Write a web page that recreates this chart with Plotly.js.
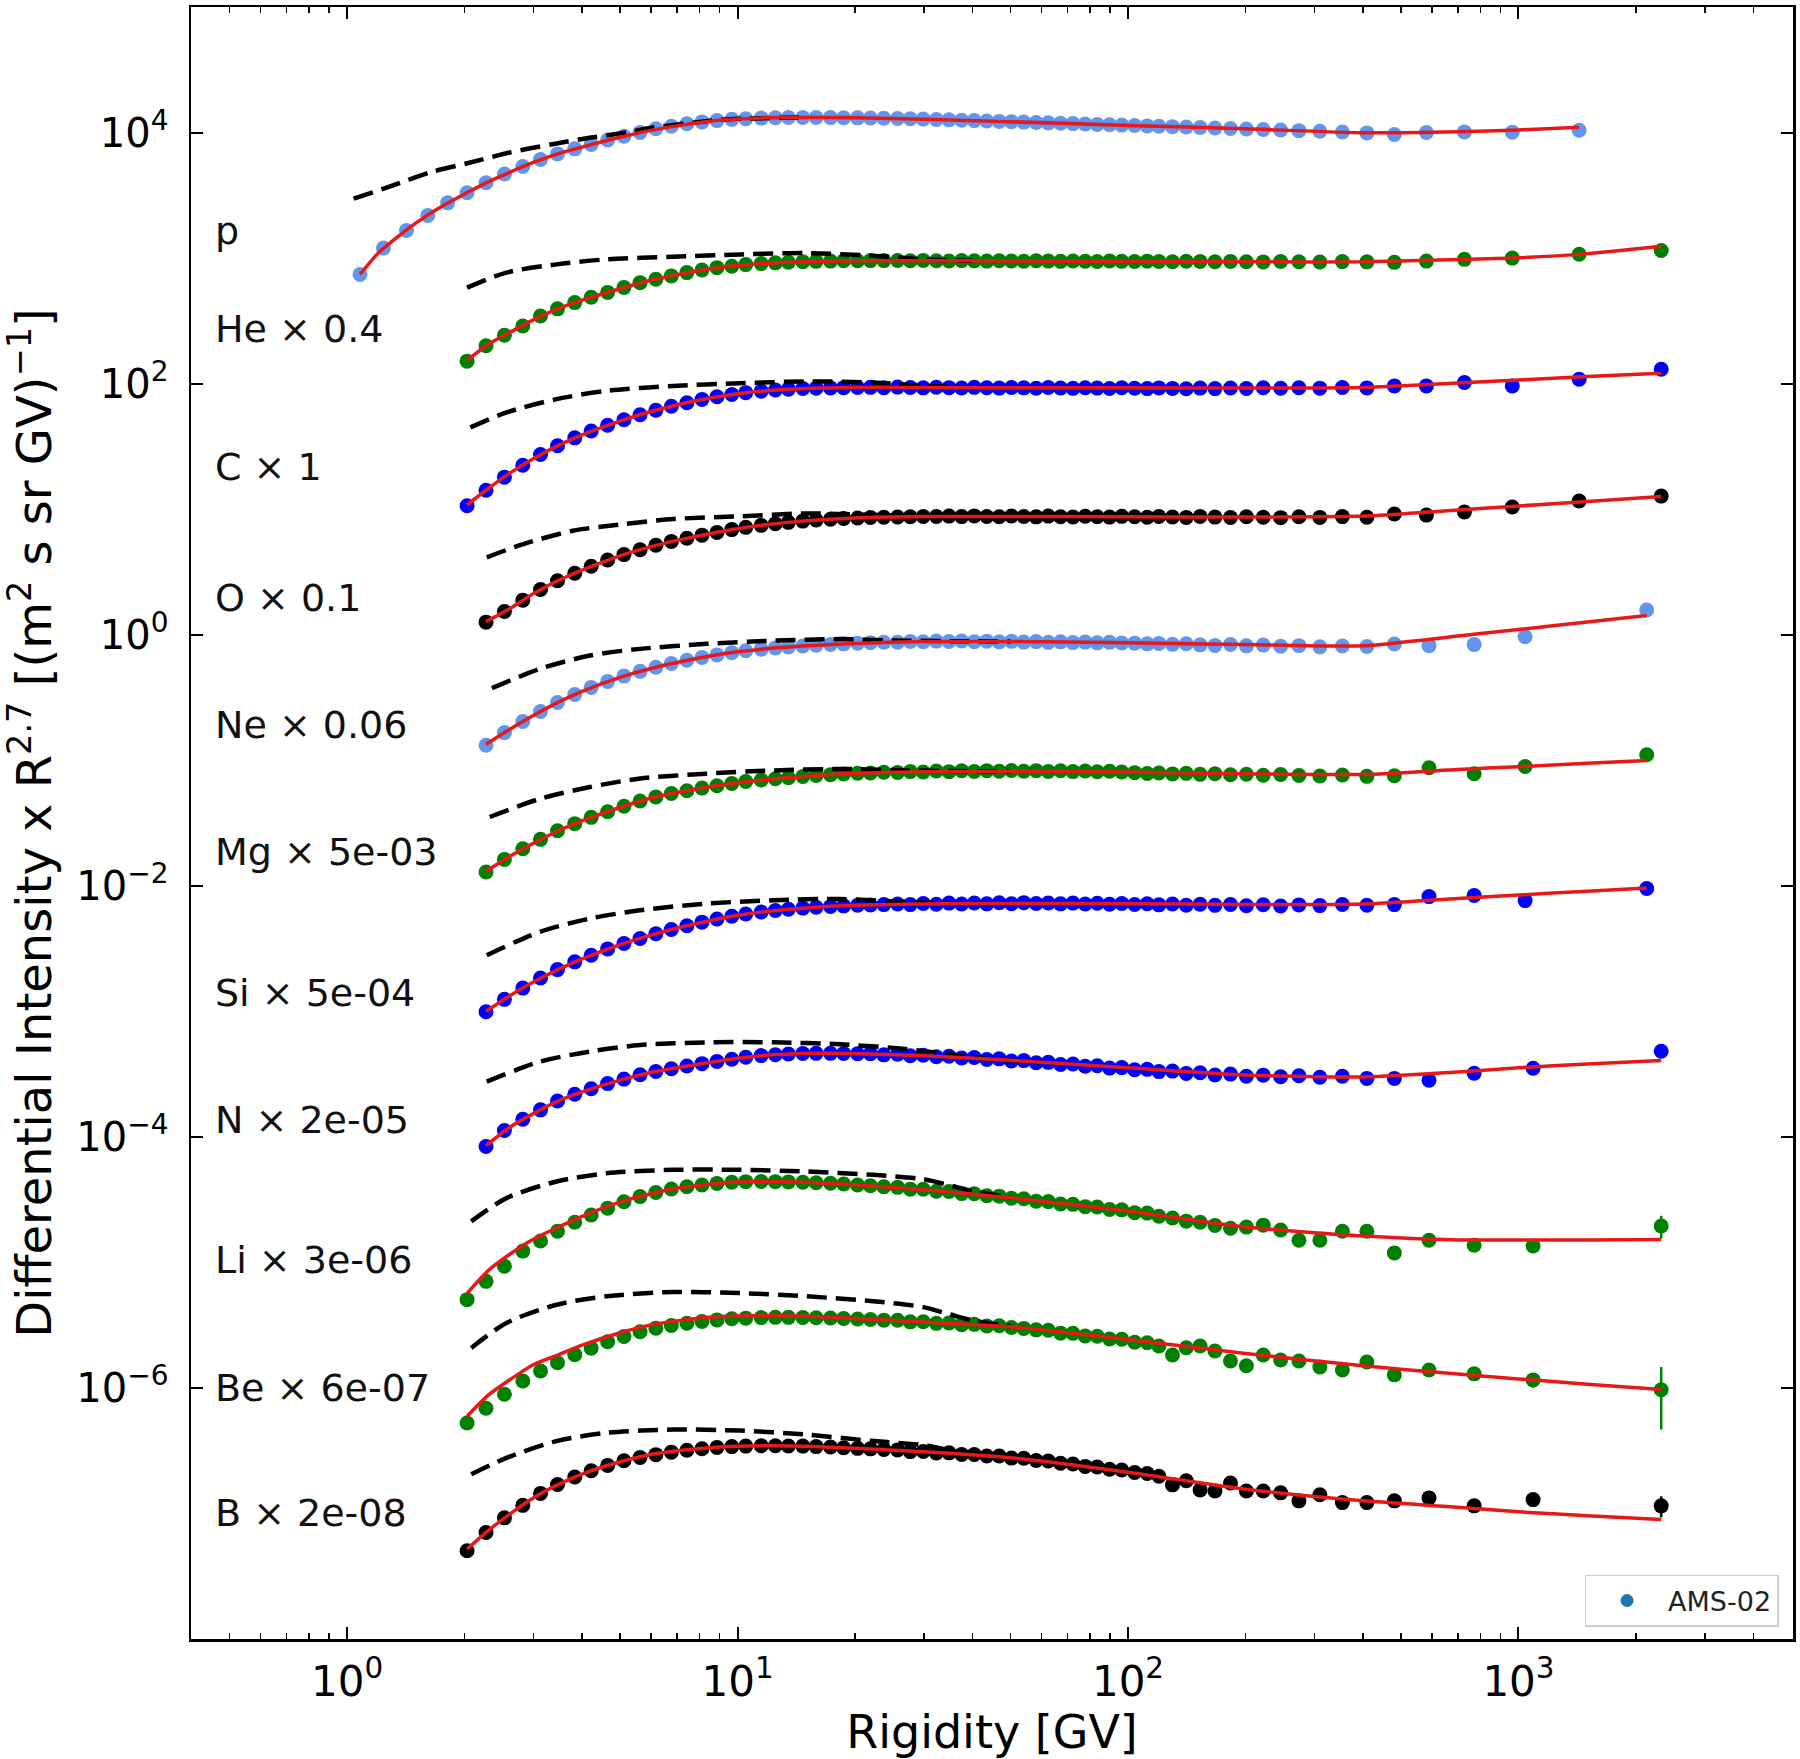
<!DOCTYPE html>
<html>
<head>
<meta charset="utf-8">
<script src="https://cdn.plot.ly/plotly-3.0.1.min.js"></script>
<style>html,body{margin:0;padding:0;background:#fff;}#plot{width:1800px;height:1759px;}</style>
</head>
<body>
<div id="plot"></div>
<script>
// ---------- rigidity bins (GV) ----------
const xNuc = [2.03, 2.27, 2.53, 2.82, 3.13, 3.46, 3.83, 4.22, 4.65, 5.12, 5.63, 6.18, 6.77, 7.42, 8.11, 8.86, 9.67,
  10.5, 11.5, 12.5, 13.5, 14.7, 15.9, 17.3, 18.7, 20.3, 21.9, 23.7, 25.7, 27.7, 29.9, 32.3, 34.8, 37.5, 40.4, 43.5, 46.8,
  50.3, 54.1, 58.2, 62.5, 67.2, 72.3, 77.7, 83.4, 89.7, 96.4,
  104, 112, 120, 130, 141, 153, 167, 183, 201, 222, 246, 274, 310, 354, 409];
const xLowP = [1.08, 1.24, 1.42, 1.61, 1.81];
const xTailP = [481, 581, 727, 964, 1430];
const xTailHe = [481, 581, 727, 964, 1430, 2320];
const xTailNe = [481, 590, 770, 1040, 2130];
const xTailN = [481, 590, 770, 1090, 2320];

// ---------- data (flux x R^2.7, scaled) ----------
const yP = [741, 1202, 1660, 2188, 2754, 3311, 3981, 4677, 5370, 6095, 6761, 7413, 8035, 8710, 9333, 10000, 10720, 11220, 11750, 12160, 12450, 12740,
  12880, 13030, 13120, 13180, 13180, 13180, 13150, 13120, 13090, 13060, 13000, 12940, 12880, 12790, 12710, 12620, 12530, 12450, 12360, 12270,
  12190, 12110, 12020, 11940, 11860, 11780, 11690, 11610, 11530, 11460,
  11380, 11300, 11220, 11140, 11070, 10960, 10860, 10770, 10660, 10570, 10470, 10350, 10230, 10090, 9931,
  9640, 10000, 10120, 10070, 10420];
const yHe = [151, 200, 243, 288, 346, 394, 442, 488, 533, 583, 637, 679, 721, 766, 804, 839, 861, 887, 904, 916, 927, 935, 942, 946, 951, 953, 955, 955,
  956, 951, 958, 953, 949, 955, 950, 946, 953, 948, 944, 951, 946, 942, 949, 944, 940, 947, 942, 938, 945, 940, 936, 943, 938, 934, 941, 936, 932, 939, 934, 930, 937, 933,
  925, 946, 977, 1000, 1072, 1148];
const yC = [10.64, 14.13, 17.99, 22.39, 27.23, 31.99, 36.98, 41.88, 46.56, 51.52, 56.49, 61.38, 66.07, 70.47, 74.65, 78.52, 81.85, 84.72, 87.10, 88.92, 90.36, 91.41, 92.05, 92.47, 92.90, 93.11,
  93.4, 92.7, 93.8, 93.0, 92.5, 93.6, 92.9, 92.3, 93.4, 92.7, 92.1, 93.2, 92.5, 91.9, 93.0, 92.3, 91.7, 92.8, 92.1, 91.5, 92.6, 91.9, 91.3, 92.4, 91.6, 91.0, 92.1, 91.3, 92.3, 91.5, 92.6, 91.8, 92.8, 92.0, 93.0, 92.4,
  95.9, 95.9, 102, 95.9, 108.4, 130.3];
const yO = [1.259, 1.531, 1.884, 2.291, 2.692, 3.090, 3.508, 3.936, 4.345, 4.753, 5.164, 5.521, 5.861, 6.209, 6.531, 6.871, 7.161, 7.430, 7.656, 7.852, 8.035, 8.185, 8.318, 8.433, 8.511, 8.570, 8.630, 8.670, 8.710, 8.730, 8.750,
  8.80, 8.72, 8.84, 8.75, 8.69, 8.82, 8.74, 8.68, 8.80, 8.71, 8.65, 8.78, 8.70, 8.64, 8.76, 8.69, 8.62, 8.75, 8.67, 8.60, 8.73, 8.64, 8.58, 8.71, 8.62, 8.56, 8.70, 8.60, 8.72, 8.63,
  9.14, 8.97, 9.48, 10.4, 11.6, 12.7];
const yNe = [0.1318, 0.1660, 0.2032, 0.2443, 0.2884, 0.3342, 0.3802, 0.4246, 0.4677, 0.5105, 0.5508, 0.5888, 0.6252, 0.6592, 0.6902, 0.7194, 0.7447, 0.7674, 0.7852, 0.7998, 0.8128, 0.8241, 0.8356, 0.8453, 0.8551,
  0.864, 0.871, 0.872, 0.882, 0.878, 0.889, 0.882, 0.891, 0.880, 0.888, 0.877, 0.885, 0.873, 0.881, 0.869, 0.877, 0.865, 0.873, 0.861, 0.869, 0.858,
  0.856, 0.845, 0.852, 0.838, 0.846, 0.830, 0.822, 0.835, 0.815, 0.826, 0.808, 0.818, 0.800, 0.812, 0.805,
  0.843, 0.818, 0.834, 0.962, 1.574];
const yMg = [0.01288, 0.01622, 0.01972, 0.02344, 0.02742, 0.03126, 0.03508, 0.03890, 0.04305, 0.04732, 0.05105, 0.05433, 0.05715, 0.05998, 0.06266, 0.06531, 0.06761, 0.06966, 0.07112, 0.07244, 0.07413, 0.07551, 0.07674, 0.07780, 0.07870,
  0.0792, 0.0802, 0.0800, 0.0812, 0.0806, 0.0820, 0.0811, 0.0824, 0.0814, 0.0826, 0.0816, 0.0828, 0.0818, 0.0826, 0.0815, 0.0824, 0.0812, 0.0821, 0.0809, 0.0818, 0.0806,
  0.0796, 0.0785, 0.0792, 0.0778, 0.0786, 0.0772, 0.0780, 0.0766, 0.0774, 0.0760, 0.0770, 0.0756, 0.0748, 0.0762, 0.0744,
  0.0752, 0.0871, 0.0780, 0.0891, 0.1107];
const ySi = [9.931e-4, 1.245e-3, 1.531e-3, 1.841e-3, 2.148e-3, 2.477e-3, 2.799e-3, 3.141e-3, 3.467e-3, 3.802e-3, 4.150e-3, 4.487e-3, 4.808e-3, 5.129e-3, 5.433e-3, 5.715e-3, 5.957e-3, 6.180e-3, 6.353e-3, 6.501e-3, 6.637e-3, 6.745e-3, 6.839e-3, 6.918e-3, 6.998e-3,
  7.02e-3, 7.08e-3, 7.15e-3, 7.08e-3, 7.22e-3, 7.12e-3, 7.28e-3, 7.16e-3, 7.30e-3, 7.18e-3, 7.32e-3, 7.20e-3, 7.34e-3, 7.22e-3, 7.30e-3, 7.18e-3, 7.28e-3, 7.15e-3, 7.26e-3, 7.12e-3, 7.22e-3,
  7.10e-3, 7.20e-3, 7.05e-3, 7.16e-3, 7.00e-3, 7.12e-3, 6.98e-3, 7.10e-3, 6.94e-3, 7.06e-3, 6.90e-3, 7.04e-3, 6.95e-3, 7.10e-3, 7.00e-3,
  7.08e-3, 8.20e-3, 8.36e-3, 7.62e-3, 9.51e-3];
const yN = [8.375e-5, 1.122e-4, 1.380e-4, 1.641e-4, 1.932e-4, 2.183e-4, 2.415e-4, 2.655e-4, 2.884e-4, 3.126e-4, 3.319e-4, 3.491e-4, 3.664e-4, 3.828e-4, 3.990e-4, 4.150e-4, 4.305e-4, 4.436e-4, 4.508e-4, 4.571e-4, 4.613e-4, 4.624e-4, 4.624e-4, 4.613e-4, 4.592e-4,
  4.60e-4, 4.50e-4, 4.55e-4, 4.42e-4, 4.47e-4, 4.34e-4, 4.39e-4, 4.25e-4, 4.29e-4, 4.14e-4, 4.18e-4, 4.02e-4, 4.05e-4, 3.89e-4, 3.92e-4, 3.77e-4, 3.80e-4, 3.65e-4, 3.68e-4, 3.53e-4, 3.56e-4,
  3.42e-4, 3.45e-4, 3.31e-4, 3.34e-4, 3.20e-4, 3.24e-4, 3.11e-4, 3.16e-4, 3.04e-4, 3.10e-4, 3.01e-4, 3.07e-4, 2.98e-4, 3.04e-4, 2.92e-4,
  2.92e-4, 2.82e-4, 3.21e-4, 3.52e-4, 4.80e-4];
const yLi = [5.047e-6, 7.063e-6, 9.333e-6, 1.230e-5, 1.479e-5, 1.770e-5, 2.089e-5, 2.388e-5, 2.704e-5, 3.041e-5, 3.342e-5, 3.606e-5, 3.837e-5, 4.009e-5, 4.140e-5, 4.256e-5, 4.345e-5, 4.395e-5, 4.406e-5, 4.395e-5, 4.375e-5, 4.345e-5, 4.305e-5, 4.266e-5, 4.207e-5, 4.140e-5, 4.074e-5, 4.009e-5,
  3.96e-5, 3.83e-5, 3.82e-5, 3.69e-5, 3.67e-5, 3.53e-5, 3.52e-5, 3.39e-5, 3.37e-5, 3.24e-5, 3.21e-5, 3.07e-5, 3.05e-5, 2.92e-5, 2.90e-5, 2.78e-5, 2.76e-5, 2.64e-5, 2.62e-5,
  2.49e-5, 2.47e-5, 2.33e-5, 2.26e-5, 2.13e-5, 2.09e-5, 1.97e-5, 1.87e-5, 1.91e-5, 1.98e-5, 1.81e-5, 1.50e-5, 1.50e-5, 1.77e-5, 1.77e-5,
  1.19e-5, 1.50e-5, 1.37e-5, 1.35e-5, 1.95e-5];
const yBe = [5.260e-7, 6.887e-7, 8.913e-7, 1.135e-6, 1.365e-6, 1.585e-6, 1.841e-6, 2.075e-6, 2.333e-6, 2.570e-6, 2.805e-6, 2.992e-6, 3.141e-6, 3.273e-6, 3.388e-6, 3.483e-6, 3.556e-6, 3.597e-6, 3.631e-6, 3.648e-6, 3.648e-6, 3.639e-6, 3.622e-6, 3.606e-6, 3.573e-6, 3.540e-6, 3.508e-6, 3.467e-6,
  3.46e-6, 3.36e-6, 3.37e-6, 3.27e-6, 3.29e-6, 3.19e-6, 3.21e-6, 3.12e-6, 3.13e-6, 3.03e-6, 2.98e-6, 2.90e-6, 2.88e-6, 2.73e-6, 2.72e-6, 2.59e-6, 2.58e-6, 2.45e-6, 2.44e-6,
  2.31e-6, 2.29e-6, 2.16e-6, 1.83e-6, 2.09e-6, 2.16e-6, 1.97e-6, 1.64e-6, 1.50e-6, 1.83e-6, 1.67e-6, 1.64e-6, 1.47e-6, 1.39e-6, 1.61e-6,
  1.271e-6, 1.390e-6, 1.294e-6, 1.159e-6, 9.66e-7];
const yB = [5.05e-8, 7.05e-8, 9.23e-8, 1.16e-7, 1.445e-7, 1.70e-7, 1.95e-7, 2.19e-7, 2.415e-7, 2.63e-7, 2.79e-7, 2.94e-7, 3.08e-7, 3.19e-7, 3.28e-7, 3.36e-7, 3.41e-7, 3.44e-7, 3.46e-7, 3.46e-7, 3.45e-7, 3.44e-7, 3.41e-7, 3.38e-7, 3.34e-7, 3.30e-7, 3.27e-7, 3.23e-7,
  3.21e-7, 3.11e-7, 3.12e-7, 3.03e-7, 3.04e-7, 2.95e-7, 2.95e-7, 2.87e-7, 2.87e-7, 2.76e-7, 2.75e-7, 2.64e-7, 2.62e-7, 2.51e-7, 2.48e-7, 2.37e-7, 2.35e-7, 2.25e-7, 2.22e-7,
  2.12e-7, 2.08e-7, 1.98e-7, 1.69e-7, 1.82e-7, 1.54e-7, 1.51e-7, 1.75e-7, 1.51e-7, 1.51e-7, 1.46e-7, 1.26e-7, 1.41e-7, 1.22e-7, 1.22e-7,
  1.26e-7, 1.33e-7, 1.15e-7, 1.29e-7, 1.15e-7];

// error bars on the highest-rigidity points
const errTailP = [0, 0, 0, 250, 450];
const errTailHe = [0, 0, 0, 0, 40, 95];
const errTailC = [0, 0, 0, 0, 4, 9];
const errTailO = [0, 0, 0, 0, 0.4, 0.9];
const errTailNe = [0, 0, 0, 0.05, 0.11];
const errTailMg = [0, 0, 0, 0.005, 0.009];
const errTailSi = [0, 0, 0, 4e-4, 7e-4];
const errTailN = [0, 0, 0, 1.8e-5, 3.2e-5];
const errTailLi = [0, 0, 0, 1.2e-6, 4.0e-6];
const errTailBe = [0, 0, 0, 1.5e-7, 5.0e-7];
const errTailB = [0, 0, 0, 0, 2.2e-8];

// ---------- fitted model (red) ----------
const xFitP = [1.08, 1.2, 1.35, 1.5, 1.7, 2, 2.3, 2.6, 3, 3.5, 4, 5, 6, 7, 8.5, 10, 12, 15, 20, 30, 50, 100, 200, 400, 700, 1000, 1430];
const fitP = [741, 1090, 1480, 1900, 2450, 3240, 4050, 4800, 5780, 6830, 7660, 9160, 10400, 11300, 12300, 12800, 13100, 13180, 13100, 12780, 12200, 11400, 10700, 9950, 10150, 10500, 11000];
const xFitA = [2.03, 2.3, 2.6, 3, 3.5, 4, 5, 6, 7, 8.5, 10, 12, 15, 20, 30, 50, 100, 200, 400, 700, 1000, 1500, 2320];
const xFitB = [2.27, 2.6, 3, 3.5, 4, 5, 6, 7, 8.5, 10, 12, 15, 20, 30, 50, 100, 200, 400, 700, 1000, 1500, 2320];
const xFitC = [2.27, 2.6, 3, 3.5, 4, 5, 6, 7, 8.5, 10, 12, 15, 20, 30, 50, 100, 200, 400, 700, 1000, 1500, 2130];
const fitHe = [153, 206, 254, 322, 399, 462, 570, 666, 737, 822, 872, 910, 937, 952, 952, 948, 942, 936, 933, 975, 1005, 1085, 1240];
const fitC = [10.8, 14.6, 19.2, 25.2, 32.5, 39.1, 50.3, 60.0, 67.6, 76.7, 83.0, 88.0, 91.5, 93.0, 93.0, 92.8, 92.5, 92.2, 93.0, 101, 107, 114, 121];
const fitO = [1.27, 1.60, 2.12, 2.73, 3.27, 4.25, 5.03, 5.64, 6.38, 6.99, 7.54, 8.07, 8.50, 8.72, 8.74, 8.70, 8.66, 8.80, 9.86, 10.6, 11.5, 12.6];
const fitNe = [0.134, 0.175, 0.227, 0.293, 0.354, 0.457, 0.538, 0.600, 0.676, 0.730, 0.776, 0.815, 0.852, 0.882, 0.882, 0.862, 0.835, 0.815, 0.976, 1.10, 1.262, 1.419];
const fitMg = [0.0130, 0.0170, 0.0218, 0.0277, 0.0329, 0.0420, 0.0500, 0.0553, 0.0614, 0.0662, 0.0705, 0.0745, 0.0786, 0.0810, 0.0816, 0.0805, 0.0780, 0.0770, 0.0843, 0.0889, 0.0944, 0.0993];
const fitSi = [1.0e-3, 1.32e-3, 1.71e-3, 2.18e-3, 2.62e-3, 3.39e-3, 4.04e-3, 4.61e-3, 5.28e-3, 5.82e-3, 6.27e-3, 6.66e-3, 6.98e-3, 7.17e-3, 7.24e-3, 7.20e-3, 7.10e-3, 7.15e-3, 7.93e-3, 8.43e-3, 9.06e-3, 9.62e-3];
const fitN = [8.5e-5, 1.18e-4, 1.53e-4, 1.95e-4, 2.28e-4, 2.83e-4, 3.26e-4, 3.55e-4, 3.92e-4, 4.22e-4, 4.48e-4, 4.62e-4, 4.60e-4, 4.43e-4, 4.07e-4, 3.55e-4, 3.11e-4, 3.0e-4, 3.28e-4, 3.55e-4, 3.80e-4, 4.05e-4];
const fitLi = [5.66e-6, 8.61e-6, 1.15e-5, 1.53e-5, 1.93e-5, 2.33e-5, 3.02e-5, 3.52e-5, 3.89e-5, 4.20e-5, 4.37e-5, 4.41e-5, 4.34e-5, 4.15e-5, 3.79e-5, 3.27e-5, 2.57e-5, 1.91e-5, 1.62e-5, 1.51e-5, 1.51e-5, 1.51e-5, 1.52e-5];
const fitBe = [5.94e-7, 8.75e-7, 1.15e-6, 1.53e-6, 1.85e-6, 2.19e-6, 2.75e-6, 3.18e-6, 3.42e-6, 3.65e-6, 3.74e-6, 3.77e-6, 3.72e-6, 3.58e-6, 3.35e-6, 3.07e-6, 2.43e-6, 1.88e-6, 1.50e-6, 1.29e-6, 1.18e-6, 1.07e-6, 9.7e-7];
const fitB = [5.2e-8, 7.3e-8, 9.8e-8, 1.33e-7, 1.72e-7, 2.06e-7, 2.58e-7, 2.95e-7, 3.16e-7, 3.34e-7, 3.43e-7, 3.46e-7, 3.43e-7, 3.31e-7, 3.10e-7, 2.78e-7, 2.13e-7, 1.56e-7, 1.26e-7, 1.12e-7, 1.03e-7, 9.6e-8, 8.95e-8];

// ---------- local interstellar spectra (black dashed) ----------
const lisPx = [1.04, 1.29, 1.63, 2.07, 2.61, 3.33, 4.22, 5.18, 6.08, 8.5, 10, 15];
const lisPy = [2970, 3720, 4810, 5770, 6930, 8040, 9120, 10000, 10960, 12400, 12850, 13200];
const lisHex = [2.03, 2.56, 3.44, 4.62, 6.83, 10.2, 15.0, 22.2, 30, 40];
const lisHey = [581, 766, 891, 977, 1026, 1069, 1095, 1045, 975, 952];
const lisCx = [2.07, 2.56, 3.44, 4.62, 6.84, 10.1, 15.0, 22.3, 30, 40];
const lisCy = [44.8, 58.9, 75.2, 87.5, 95.9, 100.7, 104.0, 102.0, 96, 93.2];
const lisOx = [2.28, 2.83, 3.79, 5.10, 6.84, 10.1, 15.0, 22, 30, 40];
const lisOy = [4.13, 5.27, 6.73, 7.60, 8.34, 8.77, 9.25, 9.0, 8.8, 8.74];
const lisNex = [2.35, 3.12, 4.19, 5.63, 8.34, 12.4, 18.3, 25, 35, 50];
const lisNey = [0.375, 0.535, 0.682, 0.771, 0.845, 0.897, 0.922, 0.90, 0.888, 0.882];
const lisMgx = [2.32, 3.12, 4.19, 5.63, 8.34, 12.4, 18.3, 25, 35, 50];
const lisMgy = [0.0353, 0.0493, 0.0612, 0.0715, 0.0782, 0.0830, 0.0852, 0.0835, 0.0820, 0.0816];
const lisSix = [2.28, 3.12, 4.19, 5.63, 8.34, 12.4, 18.3, 25, 35, 50];
const lisSiy = [2.80e-3, 4.30e-3, 5.48e-3, 6.38e-3, 7.21e-3, 7.67e-3, 7.85e-3, 7.5e-3, 7.28e-3, 7.24e-3];
const lisNx = [2.28, 3.12, 4.19, 5.63, 8.34, 12.4, 18.3, 27, 35, 45, 60];
const lisNy = [2.75e-4, 3.97e-4, 4.78e-4, 5.38e-4, 5.66e-4, 5.66e-4, 5.46e-4, 5.0e-4, 4.55e-4, 4.15e-4, 3.93e-4];
const lisLix = [2.08, 2.56, 3.44, 4.62, 6.84, 10.1, 15.0, 22.3, 29.9, 35, 40, 50];
const lisLiy = [2.12e-5, 3.25e-5, 4.41e-5, 5.13e-5, 5.46e-5, 5.46e-5, 5.30e-5, 4.98e-5, 4.6e-5, 4.1e-5, 3.7e-5, 3.28e-5];
const lisBex = [2.08, 2.56, 3.44, 4.62, 6.84, 10.1, 15.0, 22.3, 29.9, 35, 40, 50];
const lisBey = [2.08e-6, 3.29e-6, 4.60e-6, 5.37e-6, 5.81e-6, 5.70e-6, 5.37e-6, 4.90e-6, 4.40e-6, 3.85e-6, 3.45e-6, 3.1e-6];
const lisBx = [2.08, 2.56, 3.44, 4.62, 6.84, 10.1, 15.0, 22.3, 29.9, 35, 42];
const lisBy = [2.05e-7, 2.77e-7, 3.77e-7, 4.39e-7, 4.66e-7, 4.57e-7, 4.25e-7, 3.77e-7, 3.5e-7, 3.2e-7, 2.98e-7];

// ---------- labels ----------
const speciesLabels = ['p', 'He × 0.4', 'C × 1', 'O × 0.1', 'Ne × 0.06', 'Mg × 5e-03', 'Si × 5e-04', 'N × 2e-05', 'Li × 3e-06', 'Be × 6e-07', 'B × 2e-08'];
const xTickVals = [1, 10, 100, 1000];
const xTickText = ['10<sup>0</sup>', '10<sup>1</sup>', '10<sup>2</sup>', '10<sup>3</sup>'];
const yTickVals = [1e-6, 1e-4, 1e-2, 1, 1e2, 1e4];
const yTickText = ['10<sup>−6</sup>', '10<sup>−4</sup>', '10<sup>−2</sup>', '10<sup>0</sup>', '10<sup>2</sup>', '10<sup>4</sup>'];
const legendName = 'AMS-02';

// ---------- assemble ----------
const LIGHT = '#6495ED', GREEN = '#008000', BLUE = '#0000FF', BLACK = '#000000';
const xP = xLowP.concat(xNuc, xTailP);
const xHe = xNuc.concat(xTailHe);
const xO = xNuc.slice(1).concat(xTailHe);
const xNeMgSi = xNuc.slice(1).concat(xTailNe);
const xNit = xNuc.slice(1).concat(xTailN);
const xLiBeB = xNuc.concat(xTailN);

const series = [
  {x: xP, y: yP, c: LIGHT, e: errTailP, fx: xFitP, fy: fitP, lx: lisPx, ly: lisPy},
  {x: xHe, y: yHe, c: GREEN, e: errTailHe, fx: xFitA, fy: fitHe, lx: lisHex, ly: lisHey},
  {x: xHe, y: yC, c: BLUE, e: errTailC, fx: xFitA, fy: fitC, lx: lisCx, ly: lisCy},
  {x: xO, y: yO, c: BLACK, e: errTailO, fx: xFitB, fy: fitO, lx: lisOx, ly: lisOy},
  {x: xNeMgSi, y: yNe, c: LIGHT, e: errTailNe, fx: xFitC, fy: fitNe, lx: lisNex, ly: lisNey},
  {x: xNeMgSi, y: yMg, c: GREEN, e: errTailMg, fx: xFitC, fy: fitMg, lx: lisMgx, ly: lisMgy},
  {x: xNeMgSi, y: ySi, c: BLUE, e: errTailSi, fx: xFitC, fy: fitSi, lx: lisSix, ly: lisSiy},
  {x: xNit, y: yN, c: BLUE, e: errTailN, fx: xFitB, fy: fitN, lx: lisNx, ly: lisNy},
  {x: xLiBeB, y: yLi, c: GREEN, e: errTailLi, fx: xFitA, fy: fitLi, lx: lisLix, ly: lisLiy},
  {x: xLiBeB, y: yBe, c: GREEN, e: errTailBe, fx: xFitA, fy: fitBe, lx: lisBex, ly: lisBey},
  {x: xLiBeB, y: yB, c: BLACK, e: errTailB, fx: xFitA, fy: fitB, lx: lisBx, ly: lisBy}
];

function padErr(n, tail) { return new Array(Math.max(0, n - tail.length)).fill(0).concat(tail).slice(-n); }

const traces = [];
series.forEach(s => {
  traces.push({x: s.x, y: s.y, type: 'scatter', mode: 'markers', showlegend: false, hoverinfo: 'skip',
    marker: {color: s.c, size: 15, line: {width: 0}},
    error_y: {type: 'data', array: padErr(s.y.length, s.e), visible: true, color: s.c, thickness: 2.5, width: 0}});
});
series.forEach(s => {
  traces.push({x: s.lx, y: s.ly, type: 'scatter', mode: 'lines', showlegend: false, hoverinfo: 'skip',
    line: {color: 'black', width: 4.5, dash: '20px,9px', shape: 'spline', smoothing: 0.8}});
});
series.forEach(s => {
  traces.push({x: s.fx, y: s.fy, type: 'scatter', mode: 'lines', showlegend: false, hoverinfo: 'skip',
    line: {color: '#e81818', width: 3.5, shape: 'spline', smoothing: 0.6}});
});
traces.push({x: [null], y: [null], type: 'scatter', mode: 'markers', name: legendName, showlegend: true,
  marker: {color: '#1f77b4', size: 13}});

// minor ticks on the rigidity axis
const minorX = [];
[0.1, 1, 10, 100, 1000].forEach(d => { for (let k = 2; k <= 9; k++) { const v = k * d; if (v > 0.39 && v < 5000) minorX.push(v); } });

// label positions (paper coords)
const labelY = [0.863, 0.803, 0.718, 0.638, 0.560, 0.482, 0.396, 0.318, 0.232, 0.154, 0.077];
const annotations = speciesLabels.map((t, i) => ({
  text: t, xref: 'paper', yref: 'paper', x: 0.014, y: labelY[i], xanchor: 'left', yanchor: 'middle',
  showarrow: false, font: {size: 38, color: '#111', family: 'DejaVu Sans'}
}));

const axisCommon = {
  type: 'log', showline: true, linecolor: 'black', linewidth: 2.5, mirror: 'allticks',
  ticks: 'inside', ticklen: 12, tickwidth: 2, tickcolor: 'black', showgrid: false, zeroline: false,
  tickfont: {family: 'DejaVu Sans', color: 'black'}
};

const layout = {
  width: 1800, height: 1759,
  margin: {l: 191, r: 7, t: 7, b: 120},
  paper_bgcolor: 'white', plot_bgcolor: 'white',
  font: {family: 'DejaVu Sans', color: 'black'},
  xaxis: Object.assign({}, axisCommon, {
    range: [-0.3995, 3.703], tickmode: 'array', tickvals: xTickVals, ticktext: xTickText,
    tickfont: {family: 'DejaVu Sans', size: 42, color: 'black'}, ticklabelstandoff: 4,
    minor: {tickmode: 'array', tickvals: minorX, ticks: 'inside', ticklen: 6, tickwidth: 1.5, tickcolor: 'black', showgrid: false},
    title: {text: 'Rigidity [GV]', font: {size: 46, family: 'DejaVu Sans', color: 'black'}, standoff: 6}
  }),
  yaxis: Object.assign({}, axisCommon, {
    range: [-8, 5], tickmode: 'array', tickvals: yTickVals, ticktext: yTickText,
    tickfont: {family: 'DejaVu Sans', size: 40, color: 'black'}, ticklabelstandoff: 12,
    title: {text: 'Differential Intensity x R<sup>2.7</sup> [(m<sup>2</sup> s sr GV)<sup>−1</sup>]', font: {size: 48, family: 'DejaVu Sans', color: 'black'}, standoff: 36}
  }),
  showlegend: true,
  legend: {x: 0.991, y: 0.0074, xanchor: 'right', yanchor: 'bottom', bgcolor: 'white', bordercolor: '#cccccc', borderwidth: 1.5,
    font: {size: 27, family: 'DejaVu Sans', color: '#222'}, itemsizing: 'trace', itemwidth: 72},
  annotations: annotations
};

Plotly.newPlot('plot', traces, layout, {staticPlot: true, displayModeBar: false});
</script>
</body>
</html>
